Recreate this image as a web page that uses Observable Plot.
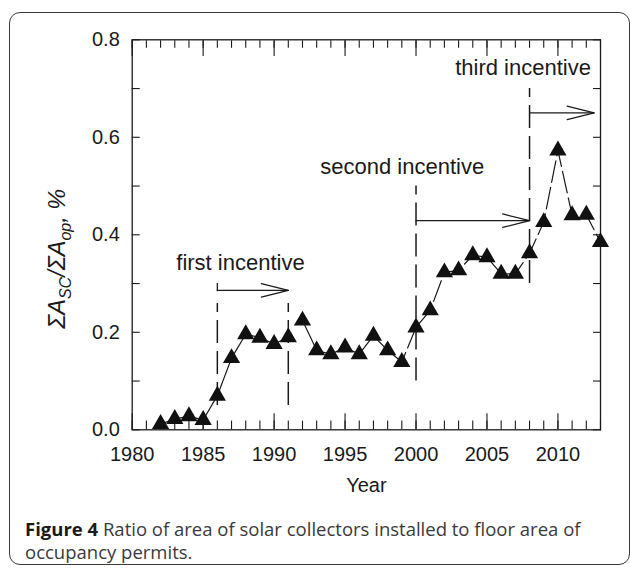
<!DOCTYPE html>
<html><head><meta charset="utf-8">
<script src="https://cdn.jsdelivr.net/npm/d3@7"></script>
<script src="https://cdn.jsdelivr.net/npm/@observablehq/plot@0.6"></script>
<style>
body{margin:0;background:#fff;width:630px;height:568px;position:relative;overflow:hidden;}
#chart{position:absolute;left:0;top:0;}
#chart svg text{font-family:"Liberation Sans",Arial,Helvetica,sans-serif;}
#frame{position:absolute;left:9px;top:12px;width:620.5px;height:553px;border:1.5px solid #3a3a3a;border-radius:11px;box-sizing:border-box;pointer-events:none;}
#caption{position:absolute;left:25px;top:518px;font-family:"Open Sans",sans-serif;font-size:18.5px;line-height:22.7px;color:#3a3a3a;white-space:nowrap;}
#caption b{color:#1a1a1a;font-weight:700;}
</style></head><body>
<div id="chart"></div>
<div id="frame"></div>
<div id="caption"><b>Figure 4</b> Ratio of area of solar collectors installed to floor area of<br>occupancy permits.</div>
<script>
// data
const years = [1982,1983,1984,1985,1986,1987,1988,1989,1990,1991,1992,1993,1994,1995,1996,1997,1998,1999,2000,2001,2002,2003,2004,2005,2006,2007,2008,2009,2010,2011,2012,2013];
const ratio = [0.012,0.022,0.028,0.020,0.070,0.147,0.196,0.189,0.176,0.190,0.224,0.163,0.155,0.169,0.155,0.193,0.163,0.139,0.210,0.245,0.323,0.327,0.358,0.354,0.320,0.320,0.362,0.426,0.573,0.440,0.441,0.385];

// incentive annotations
const incentiveNames = ["first incentive","second incentive","third incentive"];
const incentiveStart = [1986,2000,2008];
const incentiveEnd = [1991,2008,2012.55];
const incentiveLevel = [0.286,0.429,0.650];
const incentiveLabelX = [1987.63,1999.03,2007.54];
const incentiveLabelY = [0.343,0.539,0.743];

// dashed boundary lines
const boundaryYears = [1986,1991,2000,2008];
const boundaryLow = [0.05,0.05,0.10,0.30];
const boundaryHigh = [0.259,0.259,0.50,0.70];

// small bracket tick at the start of the first arrow
const bracketYears = [1986];
const bracketLow = [0.283];
const bracketHigh = [0.300];

// ticks
const xMinorTicks = d3.range(1980, 2014);
const xMajorTicks = [1980,1985,1990,1995,2000,2005,2010];
const yMinorTicks = [0,0.1,0.2,0.3,0.4,0.5,0.6,0.7,0.8];
const yLabelTicks = [0,0.2,0.4,0.6,0.8];

const pts = years.map((year,i)=>({year, value: ratio[i]}));
const seg1 = pts.filter(d=>d.year<=1991);
const seg2 = pts.filter(d=>d.year>=1992 && d.year<=1997);
const seg3 = pts.filter(d=>d.year>=1997);
const incentives = incentiveNames.map((name,i)=>({name,start:incentiveStart[i],end:incentiveEnd[i],level:incentiveLevel[i],lx:incentiveLabelX[i],ly:incentiveLabelY[i]}));
const boundaries = boundaryYears.map((year,i)=>({year,lo:boundaryLow[i],hi:boundaryHigh[i]}));
const brackets = bracketYears.map((year,i)=>({year,lo:bracketLow[i],hi:bracketHigh[i]}));

const ink = "#1a1a1a";
const font = "Liberation Sans";
const noText = () => "";
const barb = {draw(ctx, l){ ctx.moveTo(0,0); ctx.lineTo(0,-l); }};

const chart = Plot.plot({
  width: 630, height: 500,
  marginTop: 39.3, marginLeft: 131.7, marginRight: 30, marginBottom: 70.7,
  x: {domain: [1980, 2013]},
  y: {domain: [0, 0.8]},
  style: {background: "transparent", fontFamily: font, fontSize: "20px", color: ink},
  marks: [
    Plot.axisX({anchor:"bottom", ticks:xMinorTicks, tickSize:-8.7, tickFormat:noText, label:null, stroke:ink, strokeWidth:1.1}),
    Plot.axisX({anchor:"bottom", ticks:xMajorTicks, tickSize:-16, tickFormat:noText, label:null, stroke:ink, strokeWidth:1.1}),
    Plot.axisX({anchor:"top", ticks:xMinorTicks, tickSize:-7.5, tickFormat:noText, label:null, stroke:ink, strokeWidth:1.1}),
    Plot.axisX({anchor:"top", ticks:xMajorTicks, tickSize:-15.7, tickFormat:noText, label:null, stroke:ink, strokeWidth:1.1}),
    Plot.axisX({anchor:"bottom", ticks:xMajorTicks, tickSize:0, tickPadding:17, tickFormat:d=>String(d), label:"Year", labelAnchor:"center", labelArrow:"none", labelOffset:62, fill:ink, fontFamily:font, fontSize:20}),
    Plot.axisY({anchor:"left", ticks:yMinorTicks, tickSize:-8, tickFormat:noText, label:null, stroke:ink, strokeWidth:1.1}),
    Plot.axisY({anchor:"right", ticks:yMinorTicks, tickSize:-8, tickFormat:noText, label:null, stroke:ink, strokeWidth:1.1}),
    Plot.axisY({anchor:"left", ticks:yLabelTicks, tickSize:0, tickPadding:12.4, tickFormat:d3.format(".1f"), label:"ΣASC/ΣAop, %", labelAnchor:"center", labelArrow:"none", labelOffset:83.5, fill:ink, fontFamily:font, fontSize:20}),
    Plot.frame({stroke:ink, strokeWidth:1.3}),
    Plot.ruleX(boundaries, {x:"year", y1:"lo", y2:"hi", stroke:ink, strokeWidth:1.5, strokeDasharray:"23,8"}),
    Plot.ruleX(brackets, {x:"year", y1:"lo", y2:"hi", stroke:ink, strokeWidth:1.3}),
    Plot.ruleY(incentives, {y:"level", x1:"start", x2:"end", stroke:ink, strokeWidth:1.2}),
    Plot.vector(incentives, {x:"end", y:"level", length:27.8, rotate:284, anchor:"start", shape:barb, stroke:ink, strokeWidth:1.2}),
    Plot.vector(incentives, {x:"end", y:"level", length:27.8, rotate:256, anchor:"start", shape:barb, stroke:ink, strokeWidth:1.2}),
    Plot.text(incentives, {x:"lx", y:"ly", text:"name", fontFamily:font, fontSize:22, fill:ink, textAnchor:"middle", lineAnchor:"middle"}),
    Plot.line(seg1, {x:"year", y:"value", stroke:ink, strokeWidth:1.2}),
    Plot.line(seg2, {x:"year", y:"value", stroke:ink, strokeWidth:1.2}),
    Plot.line(seg3, {x:"year", y:"value", stroke:ink, strokeWidth:1.2, strokeDasharray:"22,5"}),
    Plot.dot(pts, {x:"year", y:"value", symbol:"triangle", r:6.4, fill:"#111", stroke:"none"})
  ]
});
document.getElementById("chart").appendChild(chart);

// rich y-axis label with subscripts (keeps Plot's position)
const lab = chart.querySelector('[aria-label="y-axis label"] text');
if (lab) {
  lab.textContent = "";
  lab.setAttribute("font-style", "italic");
  lab.setAttribute("font-size", "23.5px");
  lab.setAttribute("dx", "-24");
  const parts = [["ΣA",0,false],["SC",6,true],["/ΣA",-6,false],["op",6,true],[", %",-6,false]];
  const ns = "http://www.w3.org/2000/svg";
  for (const [t,dy,sub] of parts) {
    const ts = document.createElementNS(ns, "tspan");
    ts.textContent = t;
    if (dy) ts.setAttribute("dy", dy);
    if (sub) ts.setAttribute("font-size", "16px");
    lab.appendChild(ts);
  }
}
</script>
</body></html>
